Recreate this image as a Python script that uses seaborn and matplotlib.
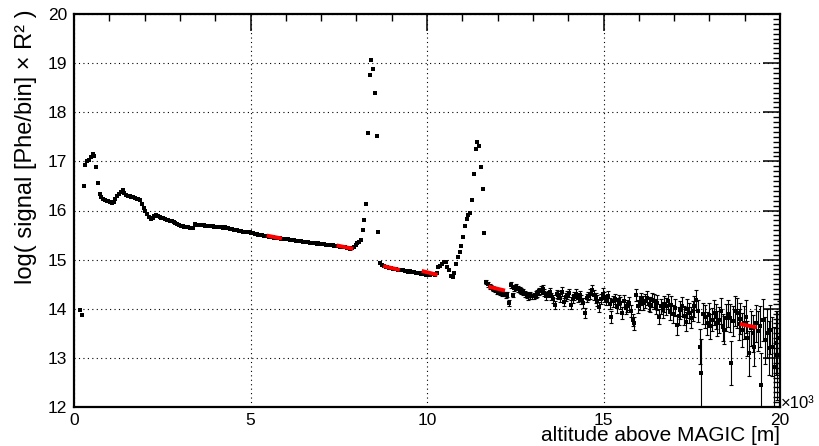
import numpy as np
import pandas as pd
import matplotlib
matplotlib.use("Agg")
import matplotlib.pyplot as plt
import seaborn as sns
from matplotlib.ticker import MultipleLocator, FuncFormatter

# ---------------- data ----------------
# regular altitude histogram: 50 m bins from 0 to 20000 m (bin centres)
bin_lo = 0
bin_hi = 20000
bin_width = 50

# log signal, bins 25 m ... 11625 m (errors smaller than the markers)
signal_near = [
    np.nan, np.nan, np.nan, 13.98, 13.87, 16.50, 16.93, 17.00, 17.02, 17.08, 17.15, 17.11, 16.88, 16.55, 16.33, 16.27, 16.24, 16.22, 16.20, 16.19,
    16.17, 16.16, 16.18, 16.24, 16.29, 16.33, 16.37, 16.41, 16.36, 16.31, 16.30, 16.30, 16.28, 16.27, 16.26, 16.24, 16.23, 16.21, 16.13, 16.06,
    15.99, 15.92, 15.86, 15.83, 15.85, 15.89, 15.91, 15.88, 15.86, 15.85, 15.84, 15.83, 15.81, 15.80, 15.79, 15.78, 15.76, 15.74, 15.73, 15.71,
    15.69, 15.68, 15.67, 15.66, 15.66, 15.65, 15.64, 15.64, 15.72, 15.71, 15.71, 15.70, 15.70, 15.70, 15.69, 15.69, 15.68, 15.69, 15.68, 15.67,
    15.67, 15.66, 15.67, 15.66, 15.65, 15.66, 15.65, 15.64, 15.63, 15.62, 15.61, 15.61, 15.60, 15.59, 15.58, 15.57, 15.56, 15.56, 15.57, 15.56,
    15.55, 15.54, 15.53, 15.52, 15.51, 15.50, 15.50, 15.49, 15.48, 15.48, 15.47, 15.47, 15.46, 15.45, 15.45, 15.44, 15.44, 15.43, 15.43, 15.42,
    15.42, 15.41, 15.40, 15.40, 15.39, 15.38, 15.38, 15.37, 15.37, 15.36, 15.36, 15.35, 15.35, 15.34, 15.34, 15.33, 15.33, 15.32, 15.33, 15.32,
    15.31, 15.31, 15.30, 15.30, 15.29, 15.30, 15.29, 15.28, 15.27, 15.28, 15.26, 15.25, 15.26, 15.25, 15.24, 15.23, 15.22, 15.24, 15.26, 15.29,
    15.33, 15.35, 15.39, 15.60, 15.81, 16.13, 17.57, 18.76, 19.07, 18.88, 18.40, 17.51, 15.56, 14.94, 14.90, 14.88, 14.86, 14.85, 14.83, 14.82,
    14.81, 14.80, 14.80, 14.79, 14.79, 14.78, 14.78, 14.76, 14.77, 14.75, 14.76, 14.74, 14.74, 14.73, 14.72, 14.73, 14.71, 14.72, 14.70, 14.69,
    14.70, 14.68, 14.71, 14.70, 14.69, 14.72, 14.86, 14.88, 14.92, 14.96, 14.95, 14.86, 14.78, 14.66, 14.65, 14.73, 14.92, 15.05, 15.15, 15.28,
    15.46, 15.69, 15.83, 15.91, 15.94, 16.21, 16.74, 17.25, 17.40, 17.32, 16.88, 16.43, 15.54,
]

# log signal, bins 11675 m ... 19975 m (with statistical errors)
signal_far = [
    14.55, 14.50, 14.46, 14.44, 14.41, 14.39, 14.36, 14.35, 14.33, 14.31, 14.30, 14.28, 14.29, 14.11, 14.48, 14.28, 14.42, 14.44, 14.41, 14.38,
    14.36, 14.35, 14.30, 14.28, 14.25, 14.27, 14.25, 14.26, 14.29, 14.31, 14.36, 14.38, 14.41, 14.33, 14.25, 14.30, 14.34, 14.25, 14.20, 14.08,
    14.30, 14.28, 14.22, 14.35, 14.14, 14.24, 14.28, 14.32, 14.08, 14.20, 14.26, 14.31, 14.22, 14.27, 14.18, 14.12, 13.91, 14.22, 14.26, 14.30,
    14.38, 14.28, 14.22, 14.16, 14.04, 14.20, 14.31, 14.24, 14.18, 14.25, 14.10, 13.84, 14.15, 14.20, 14.04, 14.18, 14.12, 13.91, 14.15, 14.01,
    14.05, 14.11, 13.95, 13.77, 13.70, 14.28, 14.05, 14.12, 14.20, 14.11, 14.16, 14.22, 14.10, 14.08, 14.18, 14.15, 14.04, 14.12, 13.84, 14.05,
    13.98, 14.10, 14.05, 14.15, 13.94, 14.08, 13.90, 14.02, 13.67, 13.85, 13.98, 14.05, 13.86, 13.74, 14.00, 13.91, 13.82, 13.95, 14.05, 14.18,
    13.95, 13.23, 12.69, 13.90, 13.84, 13.70, 13.88, 13.64, 13.78, 13.92, 13.84, 13.70, 13.77, 13.95, 13.62, 13.57, 13.82, 13.90, 13.81, 12.89,
    13.75, 13.95, 13.91, 13.68, 13.80, 13.57, 13.72, 13.84, 13.40, 13.09, 13.60, 13.50, 13.23, 13.70, 13.55, 13.64, 12.45, 13.77, 13.36, 13.50,
    13.20, 13.57, 13.23, 12.82, 13.30, 13.05, 13.40,
]
error_far = [
    0.04, 0.05, 0.05, 0.04, 0.05, 0.05, 0.05, 0.05, 0.05, 0.06, 0.05, 0.06, 0.05, 0.06, 0.06, 0.05, 0.06, 0.06, 0.06, 0.06,
    0.06, 0.06, 0.07, 0.06, 0.07, 0.07, 0.06, 0.07, 0.07, 0.07, 0.07, 0.08, 0.07, 0.07, 0.08, 0.07, 0.08, 0.07, 0.08, 0.08,
    0.08, 0.08, 0.08, 0.09, 0.08, 0.08, 0.09, 0.08, 0.09, 0.09, 0.08, 0.09, 0.09, 0.09, 0.09, 0.10, 0.10, 0.09, 0.09, 0.10,
    0.10, 0.10, 0.10, 0.11, 0.10, 0.10, 0.11, 0.10, 0.11, 0.11, 0.11, 0.12, 0.11, 0.11, 0.12, 0.11, 0.12, 0.12, 0.12, 0.12,
    0.12, 0.13, 0.12, 0.13, 0.13, 0.13, 0.13, 0.14, 0.13, 0.14, 0.14, 0.14, 0.14, 0.15, 0.14, 0.15, 0.15, 0.15, 0.16, 0.15,
    0.16, 0.16, 0.17, 0.16, 0.17, 0.17, 0.18, 0.17, 0.20, 0.18, 0.18, 0.19, 0.19, 0.20, 0.19, 0.20, 0.21, 0.20, 0.21, 0.21,
    0.22, 0.35, 0.70, 0.22, 0.23, 0.24, 0.23, 0.25, 0.24, 0.25, 0.25, 0.26, 0.26, 0.26, 0.28, 0.28, 0.27, 0.28, 0.29, 0.45,
    0.30, 0.30, 0.31, 0.32, 0.32, 0.34, 0.33, 0.34, 0.36, 0.45, 0.36, 0.38, 0.40, 0.38, 0.40, 0.42, 0.65, 0.42, 0.48, 0.50,
    0.55, 0.50, 0.60, 0.80, 0.65, 0.90, 0.75,
]

# red straight-line fits (start/end altitude in m, start/end value)
fit_x0 = [5460, 7440, 8760, 9850, 11740, 18865]
fit_x1 = [5890, 7910, 9230, 10300, 12210, 19340]
fit_y0 = [15.49, 15.29, 14.87, 14.77, 14.45, 13.69]
fit_y1 = [15.43, 15.22, 14.79, 14.69, 14.37, 13.62]

x_ticks_major = 5000
y_lim = (12, 20)

# ---------------- build tables ----------------
alt = np.arange(bin_lo + bin_width / 2, bin_hi, bin_width)
n_near = len(signal_near)
assert n_near + len(signal_far) == len(alt)
near = pd.DataFrame({"alt": alt[:n_near], "sig": signal_near}).dropna()
far = pd.DataFrame({"alt": alt[n_near:], "sig": signal_far, "err": error_far})
fits = pd.DataFrame({
    "alt": fit_x0 + fit_x1,
    "sig": fit_y0 + fit_y1,
    "seg": list(range(len(fit_x0))) * 2,
})

# ---------------- style ----------------
sns.set_theme(style="white")
plt.rcParams["font.family"] = ["Liberation Sans", "DejaVu Sans"]

W, H = 819, 446
fig = plt.figure(figsize=(W / 100, H / 100), dpi=100)
ax = fig.add_axes([74 / W, 39 / H, 706 / W, 393 / H])

# error bars first, then markers, then fits on top
ax.errorbar(far["alt"], far["sig"], yerr=far["err"], fmt="none",
            ecolor="black", elinewidth=0.8, capsize=1.4, capthick=0.8, zorder=2)
sns.scatterplot(data=near, x="alt", y="sig", marker="s", s=5, color="black",
                linewidth=0, ax=ax, zorder=3)
sns.scatterplot(data=far, x="alt", y="sig", marker="s", s=5, color="black",
                linewidth=0, ax=ax, zorder=3)
n_before = len(ax.get_lines())
sns.lineplot(data=fits, x="alt", y="sig", units="seg", estimator=None,
             color="#ff0000", linewidth=2.8, ax=ax)
for ln in ax.get_lines()[n_before:]:
    ln.set_zorder(10)
    ln.set_solid_capstyle("butt")

ax.set_xlim(bin_lo, bin_hi)
ax.set_ylim(*y_lim)
ax.set_xlabel("")
ax.set_ylabel("")

ax.xaxis.set_major_locator(MultipleLocator(x_ticks_major))
ax.xaxis.set_minor_locator(MultipleLocator(1000))
ax.yaxis.set_major_locator(MultipleLocator(1))
ax.yaxis.set_minor_locator(MultipleLocator(0.1))
ax.xaxis.set_major_formatter(FuncFormatter(lambda v, p: f"{v/1000:g}"))
ax.yaxis.set_major_formatter(FuncFormatter(lambda v, p: f"{v:g}"))

ax.tick_params(which="both", direction="in", top=True, right=True,
               colors="black", labelsize=12.5)
ax.tick_params(which="major", length=12, width=1.1)
ax.tick_params(which="minor", length=5, width=1.0)
ax.tick_params(axis="x", which="major", pad=4)
ax.tick_params(axis="y", which="major", pad=5)

ax.grid(True, which="major", color="black", linestyle=(0, (1, 3)), linewidth=0.8)
ax.set_axisbelow(True)
for sp in ax.spines.values():
    sp.set_linewidth(1.6)
    sp.set_color("black")

fig.text(780 / W, 1 / H, "altitude above MAGIC [m]", ha="right", va="bottom",
         fontsize=15, color="black")
fig.text(26 / W, 1 - 9 / H, "log( signal [Phe/bin] × R² )", rotation=90,
         ha="center", va="top", fontsize=17, color="black")
fig.text(781 / W, 1 - 404 / H, "×10³", ha="left", va="center",
         fontsize=12, color="black")

fig.savefig("out.png", dpi=100, facecolor="white")
